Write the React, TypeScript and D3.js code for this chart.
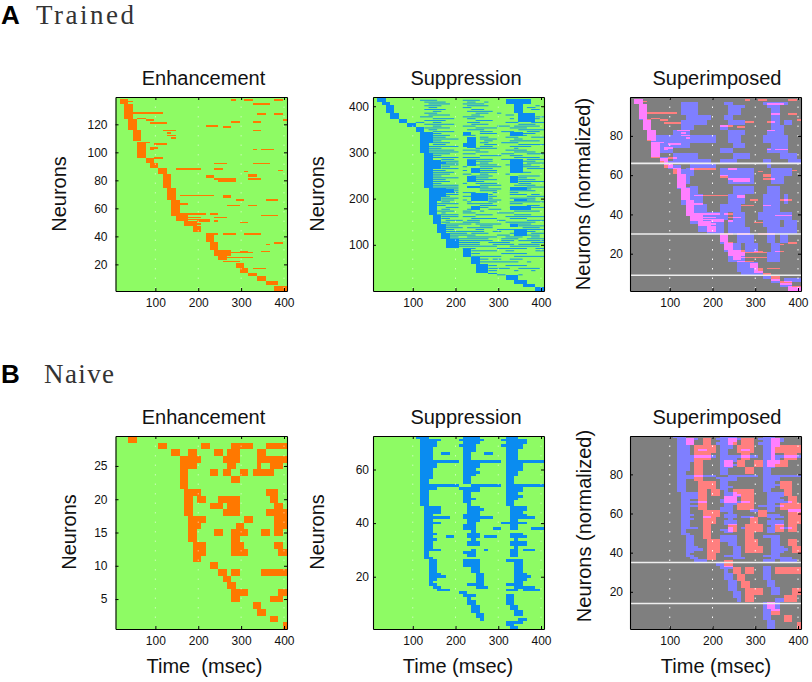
import React, { useRef, useEffect } from "react";
import * as d3 from "d3";

// every row: [neuronLow, neuronHigh, t0, t1, t0, t1, ...] (msec, 10 ms bins)
type Row = number[];

const timeTicks = [100, 200, 300, 400];

const enhanceTrained: Row[] = [
  [134.6, 138.4, 20, 40], [136, 137, 40, 50], [123.9, 134.6, 30, 50], [115.8, 123.9, 40, 60],
  [107.9, 115.8, 50, 70], [96, 107.2, 60, 80], [92.4, 96, 80, 100], [88.9, 92.4, 90, 110],
  [84.8, 88.9, 110, 130], [74.6, 84.8, 120, 140], [66.2, 74.6, 130, 150], [54.3, 66.2, 140, 160],
  [50.8, 56.7, 150, 180], [47.2, 50.8, 170, 200], [42.9, 47.2, 190, 210], [35.8, 42, 220, 240],
  [30.5, 35.8, 230, 250], [26.2, 30.5, 240, 280], [22.9, 26.2, 250, 270], [17.4, 20.8, 290, 310],
  [13.9, 17.4, 300, 320], [11.5, 13.9, 320, 340], [7.9, 11.5, 340, 360], [5.5, 7.9, 360, 390],
  [1, 4.3, 380, 410],
  [137, 138, 280, 290, 310, 330, 380, 400], [134, 135, 330, 370], [127.5, 128.5, 50, 120],
  [127, 128, 340, 360, 380, 400], [123.5, 124.5, 60, 80], [122.5, 123.5, 80, 100, 400, 410],
  [121.2, 122.2, 280, 300, 330, 350], [120.3, 121.3, 90, 130], [118.4, 119.4, 220, 250],
  [117.5, 118.5, 260, 280], [115, 116, 120, 150, 330, 350], [113.4, 114.4, 130, 140],
  [111.5, 112.5, 130, 150], [109.8, 110.8, 140, 150], [106.7, 107.7, 70, 90], [105.5, 106.5, 100, 130],
  [102.5, 103.5, 90, 110], [101.5, 102.5, 90, 100, 330, 340, 350, 380], [95.5, 96.5, 100, 120],
  [91.5, 92.5, 240, 270, 330, 370], [87.5, 88.5, 150, 210, 240, 260], [86.7, 87.7, 390, 400],
  [85.7, 86.7, 310, 320], [81.7, 84, 220, 240], [82.7, 84.6, 320, 340], [80.5, 81.5, 320, 350, 240, 290],
  [79.1, 80.1, 250, 290], [68.5, 69.5, 160, 240], [67.6, 69.6, 260, 280], [65.5, 66.5, 290, 310, 360, 390],
  [61.7, 62.7, 270, 300, 320, 340], [62.5, 63.5, 160, 180], [55.5, 56.5, 180, 220, 230, 250],
  [54.3, 55.3, 350, 390], [53.1, 54.1, 180, 210, 240, 270], [51.5, 52.5, 180, 230],
  [49.5, 50.5, 300, 320], [50.5, 51.5, 200, 230, 240, 250], [48.4, 49.4, 180, 210],
  [41.2, 42.2, 220, 250, 260, 290, 310, 350], [34.8, 35.8, 380, 400], [33.8, 34.8, 360, 370],
  [28.5, 29.5, 300, 320, 350, 370], [27.9, 28.9, 260, 330], [24.5, 25.5, 260, 330],
  [21.7, 22.7, 260, 300], [16.5, 17.5, 330, 360],
];

const suppressTrainedBlocks: Row[] = [
  [410, 420, 20, 40], [403, 410, 30, 50], [386, 403, 40, 60], [372, 386, 50, 70], [363, 372, 70, 90],
  [356, 363, 90, 110], [345, 356, 110, 130], [320, 345, 120, 150], [299, 320, 120, 140],
  [224, 299, 130, 150], [265, 283, 150, 170], [275, 280, 170, 180], [164, 224, 140, 160],
  [204, 224, 160, 180], [212, 220, 180, 200], [195, 204, 160, 170], [145, 164, 150, 170],
  [125, 145, 160, 180], [112, 125, 170, 190], [94, 112, 180, 210], [74, 90, 220, 240],
  [58, 74, 240, 260], [40, 58, 250, 280], [36, 40, 280, 300], [24, 35, 320, 350], [15, 24, 340, 370],
  [8, 15, 360, 390], [0, 8, 390, 410], [405, 416, 320, 380], [385, 405, 340, 360], [365, 385, 350, 390],
  [338, 345, 220, 240], [309, 334, 230, 250], [312, 320, 220, 250], [270, 283, 230, 250],
  [255, 266, 240, 260], [236, 248, 230, 250], [222, 228, 230, 260], [194, 212, 240, 280],
  [176, 185, 240, 260], [335, 345, 330, 360], [255, 285, 330, 360], [233, 248, 330, 350],
  [218, 226, 330, 370], [194, 200, 340, 370], [176, 183, 330, 380], [138, 146, 330, 350],
  [120, 135, 340, 370],
];

const suppressTrainedStreaks: Row[] = [
  [412, 414, 120, 160, 220, 260], [408, 410, 130, 180, 230, 250, 270, 280], [404, 406, 140, 190, 220, 270],
  [400, 402, 130, 170, 230, 280, 390, 400], [396, 398, 140, 160, 220, 240, 370, 390],
  [392, 394, 130, 180, 240, 270, 380, 400], [388, 390, 150, 170, 230, 290], [384, 386, 130, 160, 250, 280, 300, 310],
  [380, 382, 140, 190, 240, 260, 320, 340], [376, 378, 120, 150, 220, 270, 390, 410],
  [372, 374, 150, 200, 230, 250, 330, 340, 360, 400], [368, 370, 130, 180, 250, 290],
  [364, 366, 110, 130, 150, 170, 230, 260, 320, 350, 380, 410], [360, 362, 130, 200, 240, 280, 350, 390],
  [356, 358, 150, 170, 220, 250, 300, 330, 340, 400], [352, 354, 130, 190, 250, 300, 330, 370],
  [348, 350, 140, 160, 230, 270, 350, 410], [344, 346, 150, 200, 260, 290, 310, 340, 370, 400],
  [340, 342, 150, 170, 260, 300, 360, 390], [336, 338, 150, 190, 220, 250, 330, 370],
  [332, 334, 150, 180, 260, 280, 320, 350, 380, 410], [328, 330, 150, 210, 260, 300, 340, 360],
  [324, 326, 150, 170, 270, 290, 330, 400], [320, 322, 150, 190, 260, 280, 310, 350],
  [316, 318, 150, 180, 270, 300, 350, 410], [312, 314, 140, 210, 260, 290, 330, 380],
  [308, 310, 140, 170, 250, 300, 340, 350], [304, 306, 140, 200, 220, 260, 320, 370],
  [300, 302, 130, 210, 250, 280, 340, 390], [296, 298, 150, 190, 220, 250, 310, 340, 370, 410],
  [292, 294, 150, 170, 260, 310, 330, 360], [288, 290, 150, 210, 220, 260, 340, 400],
  [284, 286, 170, 200, 230, 290, 310, 350, 370, 410], [280, 282, 170, 210, 250, 290, 360, 390],
  [276, 278, 180, 210, 260, 280, 370, 410], [272, 274, 170, 210, 250, 300, 320, 330, 360, 380],
  [268, 270, 170, 190, 220, 230, 260, 310, 360, 400], [264, 266, 170, 210, 260, 290, 370, 410],
  [260, 262, 150, 180, 220, 230, 260, 300], [256, 258, 150, 200, 260, 300, 360, 380],
  [252, 254, 150, 190, 220, 240, 260, 280, 320, 330], [248, 250, 150, 170, 240, 290, 350, 400],
  [244, 246, 150, 210, 250, 280, 340, 370], [240, 242, 150, 180, 250, 300, 350, 390],
  [236, 238, 150, 190, 250, 270, 350, 410], [232, 234, 150, 170, 220, 230, 250, 300, 350, 380],
  [228, 230, 150, 210, 260, 310, 340, 390], [224, 226, 150, 210, 260, 280, 370, 410],
  [220, 222, 180, 210, 260, 310, 370, 380], [216, 218, 200, 210, 260, 300, 330, 390],
  [212, 214, 180, 210, 220, 250, 290, 300, 330, 350], [208, 210, 180, 210, 280, 290, 330, 370, 380, 400],
  [204, 206, 170, 190, 220, 240, 280, 300, 370, 410], [200, 202, 170, 210, 280, 290, 330, 390],
  [196, 198, 170, 200, 220, 230, 280, 310, 370, 390], [192, 194, 170, 190, 230, 240, 280, 300, 330, 410],
  [188, 190, 160, 210, 230, 290, 330, 360], [184, 186, 160, 180, 260, 300, 370, 400],
  [180, 182, 180, 210, 260, 280, 330, 340, 380, 410], [176, 178, 170, 190, 230, 240, 280, 310],
  [172, 174, 160, 200, 220, 240, 260, 270, 340, 400], [168, 170, 170, 180, 220, 250, 300, 340],
  [164, 166, 160, 210, 250, 290, 340, 380], [160, 162, 170, 210, 220, 250, 320, 410],
  [156, 158, 170, 190, 240, 300, 330, 370], [152, 154, 180, 220, 230, 260, 300, 320, 370, 410],
  [148, 150, 170, 190, 220, 260, 320, 390], [144, 146, 180, 240, 250, 310, 330, 380],
  [140, 142, 180, 210, 260, 290, 350, 410], [136, 138, 180, 220, 230, 290, 360, 400],
  [132, 134, 180, 200, 250, 270, 300, 340, 370, 410], [128, 130, 180, 270, 290, 310, 370, 390],
  [124, 126, 190, 230, 240, 280, 330, 350, 380, 410], [120, 122, 190, 250, 300, 330, 370, 400],
  [116, 118, 190, 210, 230, 300, 320, 360, 380, 400], [112, 114, 190, 280, 310, 350, 370, 410],
  [108, 110, 210, 290, 310, 340, 350, 410], [104, 106, 210, 260, 280, 330, 380, 410],
  [100, 102, 210, 260, 290, 340, 350, 400], [96, 98, 210, 300, 330, 400], [91, 93, 220, 250, 300, 370, 390, 410],
  [86, 88, 240, 300, 320, 340, 390, 410], [80, 82, 240, 260, 310, 370], [74, 76, 240, 310, 340, 410],
  [68, 70, 260, 280, 290, 310, 330, 360], [62, 64, 260, 350, 370, 380], [54, 56, 280, 300, 320, 370],
  [48, 50, 280, 330, 350, 400], [43, 45, 280, 300, 340, 350, 380, 390], [34, 36, 300, 320, 350, 360],
];

const enhanceNaive: Row[] = [
  [28.5, 29.5, 40, 60],
  [27.5, 28.5, 110, 130, 210, 230, 280, 330, 360, 410],
  [26.5, 27.5, 140, 160, 180, 200, 240, 260, 270, 300, 340, 360],
  [25.5, 26.5, 160, 210, 260, 300, 340, 410],
  [24.5, 25.5, 160, 200, 270, 290, 340, 350, 370, 400],
  [23.5, 24.5, 160, 180, 230, 250, 260, 280, 300, 320, 330, 380],
  [22.5, 23.5, 160, 180, 280, 300],
  [21.5, 22.5, 160, 180],
  [20.5, 21.5, 170, 210, 360, 390],
  [19.5, 20.5, 170, 190, 200, 220, 250, 300, 370, 390],
  [18.5, 19.5, 170, 190, 230, 260, 270, 300, 380, 400],
  [17.5, 18.5, 170, 190, 260, 300, 360, 410],
  [16.5, 17.5, 180, 220, 310, 330, 380, 410],
  [15.5, 16.5, 180, 210, 290, 310, 380, 410],
  [14.5, 15.5, 180, 200, 240, 260, 280, 320, 350, 370, 380, 400],
  [13.5, 14.5, 180, 200, 280, 300],
  [12.5, 13.5, 190, 220, 280, 310, 380, 400],
  [11.5, 12.5, 190, 220, 280, 320, 390, 410],
  [10.5, 11.5, 190, 210],
  [9.5, 10.5, 230, 250],
  [8.5, 9.5, 250, 270, 280, 300, 350, 410],
  [7.5, 8.5, 260, 280],
  [6.5, 7.5, 270, 290],
  [5.5, 6.5, 280, 320, 390, 410],
  [4.5, 5.5, 280, 300, 370, 400],
  [3.5, 4.5, 330, 350],
  [2.5, 3.5, 340, 360],
  [1.5, 2.5, 370, 390],
  [0.5, 1.5, 400, 410],
];

const suppressNaive: Row[] = [
  [71.5, 72.5, 110, 140, 220, 260, 320, 350],
  [70.5, 71.5, 120, 170, 210, 270, 310, 370],
  [69.5, 70.5, 120, 160, 220, 260, 320, 370],
  [68.5, 69.5, 120, 160, 210, 250, 310, 360],
  [67.5, 68.5, 120, 150, 220, 250, 320, 360],
  [66.5, 67.5, 120, 150, 220, 250, 320, 350],
  [65.5, 66.5, 120, 150, 170, 190, 220, 240, 270, 290, 320, 350],
  [64.5, 65.5, 120, 150, 220, 240, 320, 350],
  [63.5, 64.5, 120, 150, 220, 240, 320, 350],
  [62.5, 63.5, 120, 210, 220, 240, 240, 310, 320, 410],
  [61.5, 62.5, 120, 160, 220, 260, 320, 360],
  [60.5, 61.5, 120, 160, 220, 260, 320, 360],
  [59.5, 60.5, 120, 150, 220, 250, 320, 360],
  [58.5, 59.5, 120, 150, 220, 260, 320, 350],
  [57.5, 58.5, 120, 150, 220, 250, 320, 350],
  [56.5, 57.5, 120, 150, 220, 240, 320, 340],
  [55.5, 56.5, 120, 140, 220, 240, 320, 340],
  [54.5, 55.5, 120, 140, 220, 240, 320, 340],
  [53.5, 54.5, 120, 210, 240, 310, 320, 410],
  [52.5, 53.5, 120, 160, 210, 260, 320, 360],
  [51.5, 52.5, 120, 140, 220, 260, 320, 360],
  [50.5, 51.5, 120, 140, 220, 240, 320, 350],
  [49.5, 50.5, 120, 140, 220, 240, 320, 360],
  [48.5, 49.5, 120, 140, 220, 250, 320, 350],
  [47.5, 48.5, 120, 140, 220, 240, 320, 340],
  [46.5, 47.5, 120, 140, 230, 240, 320, 340],
  [45.5, 46.5, 130, 170, 230, 260, 330, 370],
  [44.5, 45.5, 130, 170, 230, 270, 330, 370],
  [43.5, 44.5, 130, 170, 230, 260, 330, 360],
  [42.5, 43.5, 130, 150, 220, 260, 330, 370],
  [41.5, 42.5, 130, 190, 220, 290, 330, 390],
  [40.5, 41.5, 130, 150, 230, 260, 330, 350],
  [39.5, 40.5, 130, 170, 230, 250, 310, 370],
  [38.5, 39.5, 130, 150, 220, 250, 330, 350],
  [37.5, 38.5, 130, 150, 220, 250, 290, 310, 330, 350, 380, 410],
  [36.5, 37.5, 130, 150, 240, 250],
  [35.5, 36.5, 130, 160, 230, 260, 330, 360],
  [34.5, 35.5, 130, 150, 180, 200, 230, 260, 270, 300, 330, 370],
  [33.5, 34.5, 130, 160, 240, 250, 340, 350],
  [32.5, 33.5, 130, 150, 230, 260, 330, 370],
  [31.5, 32.5, 130, 150, 230, 260, 330, 370],
  [30.5, 31.5, 130, 150, 340, 350],
  [29.5, 30.5, 130, 170, 240, 250, 270, 280, 330, 350, 360, 390],
  [28.5, 29.5, 130, 140, 220, 250, 330, 350],
  [27.5, 28.5, 130, 140, 230, 250, 330, 350],
  [26.5, 27.5, 130, 150],
  [25.5, 26.5, 140, 160, 220, 260, 320, 360],
  [24.5, 25.5, 140, 160, 220, 260, 340, 360],
  [23.5, 24.5, 140, 160, 220, 260, 340, 360],
  [22.5, 23.5, 140, 160, 240, 260, 340, 360],
  [21.5, 22.5, 140, 160, 240, 260, 340, 360],
  [20.5, 21.5, 140, 170, 250, 270, 340, 370],
  [19.5, 20.5, 140, 180, 250, 270, 340, 380],
  [18.5, 19.5, 140, 160, 250, 270, 340, 370],
  [17.5, 18.5, 140, 150, 250, 270, 340, 360],
  [16.5, 17.5, 140, 160, 230, 270, 320, 360],
  [15.5, 16.5, 150, 170, 250, 280, 340, 390],
  [14.5, 15.5, 160, 190, 320, 350, 360, 400],
  [13.5, 14.5, 210, 230],
  [12.5, 13.5, 220, 250, 320, 340],
  [11.5, 12.5, 230, 240, 320, 340],
  [10.5, 11.5, 230, 250, 320, 340],
  [9.5, 10.5, 230, 250, 320, 340],
  [8.5, 9.5, 240, 260, 330, 350],
  [7.5, 8.5, 240, 260, 330, 350],
  [6.5, 7.5, 240, 260, 340, 360],
  [5.5, 6.5, 250, 270, 340, 360],
  [4.5, 5.5, 250, 270],
  [3.5, 4.5, 260, 270, 350, 370],
  [2.5, 3.5, 320, 360],
  [1.5, 2.5, 320, 340],
  [0.5, 1.5, 330, 350],
];

// blue layer of the trained overlay, y in normalized neurons
const overlayTrainedBlue: Row[] = [
  [96, 99, 20, 40], [88, 96, 30, 50], [83, 88, 40, 60], [78, 83, 50, 70], [69, 78, 60, 80], [67, 69, 80, 100],
  [65, 67, 90, 110], [63, 65, 100, 130], [53, 63, 120, 140], [45, 54, 130, 150], [39, 48, 140, 160],
  [35, 40, 150, 180], [31, 35, 170, 210], [25, 30, 220, 240], [21, 25, 230, 250], [16, 21, 240, 260],
  [11, 16, 260, 290], [9, 11, 270, 320], [7, 8.7, 320, 340], [5, 7, 340, 360], [3, 5, 360, 390], [1, 3, 380, 410],
  [95.5, 97.5, 130, 170, 230, 250, 320, 380], [94, 95.5, 130, 170, 240, 280, 330, 360],
  [90.7, 94, 130, 170, 240, 270, 340, 360], [88.2, 90.7, 140, 200, 230, 250, 340, 360],
  [85.7, 88.2, 130, 190, 240, 280, 340, 360, 370, 390], [83.2, 85.7, 130, 160, 220, 240, 340, 370],
  [80.7, 83.2, 110, 150, 240, 280, 330, 370], [76.5, 80.7, 70, 210, 240, 270, 320, 380],
  [74, 76.5, 80, 150, 250, 280, 340, 380], [71.4, 74, 80, 110, 220, 250, 330, 380],
  [68, 71.4, 110, 170, 250, 290, 360, 400], [65.7, 68, 110, 200, 220, 260, 320, 340, 380, 410],
  [63.5, 65.7, 150, 210, 330, 340], [59.7, 63.5, 140, 160, 220, 300, 340, 390],
  [55.5, 59.7, 140, 150, 240, 300, 340, 370], [50.4, 54.6, 150, 170, 250, 300, 330, 360],
  [45.4, 50.4, 150, 180, 240, 280, 320, 360, 370, 380], [41.2, 45.4, 160, 190, 220, 270, 320, 360],
  [37, 41.2, 160, 240, 250, 280, 310, 390], [33.6, 37, 170, 230, 240, 280, 320, 360, 370, 400],
  [30, 33.6, 190, 230, 240, 290, 330, 400], [25.2, 30, 260, 300, 330, 350, 360, 380],
  [21, 25.2, 240, 270, 280, 310, 340, 360], [16, 21, 260, 280, 330, 360], [10.9, 16, 260, 310],
  [9.2, 10.9, 270, 320], [5.5, 7.5, 370, 410],
];

const whiteLinesTrained = [66, 30, 9];
const whiteLinesNaive = [35, 14];

const GREEN = "#8efb64";
const ORANGE = "#ff7800";
const BLUE = "#0a8cf0";
const GRAY = "#7f7f7f";
const SOFT_RED = "#ff7f7f";
const SOFT_BLUE = "#7f7fff";
const FONT = "'Liberation Sans', Arial, sans-serif";

const cols = [
  { left: 115.5, right: 287, titleX: 203.5, tickPad: 8 },
  { left: 373, right: 544, titleX: 466, tickPad: 4 },
  { left: 630, right: 801, titleX: 717, tickPad: 7 },
];
const trainedBox = { top: 97, bottom: 291 };
const naiveBox = { top: 436, bottom: 629 };

export default function App() {
  const ref = useRef<SVGSVGElement | null>(null);

  useEffect(() => {
    const svg = d3.select(ref.current);
    svg.selectAll("*").remove();

    const drawRows = (
      g: any,
      rows: Row[],
      x: d3.ScaleLinear<number, number>,
      y: d3.ScaleLinear<number, number>,
      fill: string,
      crisp: boolean,
      blend?: string,
    ) => {
      const spans: number[][] = [];
      rows.forEach((r) => {
        for (let i = 2; i < r.length; i += 2) spans.push([r[0], r[1], r[i], r[i + 1]]);
      });
      g.append("g")
        .selectAll("rect")
        .data(spans)
        .enter()
        .append("rect")
        // bins start 3 ms before their label
        .attr("x", (d: number[]) => x(d[2] - 3))
        .attr("width", (d: number[]) => x(d[3]) - x(d[2]))
        .attr("y", (d: number[]) => y(d[1]))
        .attr("height", (d: number[]) => y(d[0]) - y(d[1]))
        .attr("fill", fill)
        .attr("shape-rendering", crisp ? "crispEdges" : "auto")
        .style("mix-blend-mode", blend ?? "normal");
    };

    const panel = (
      col: number,
      box: { top: number; bottom: number },
      yDomain: [number, number],
      yTicks: number[],
      title: string,
      bg: string,
      drawMarks: (g: any, x: d3.ScaleLinear<number, number>, y: d3.ScaleLinear<number, number>) => void,
      whiteLines: number[] = [],
    ) => {
      const { left, right, titleX, tickPad } = cols[col];
      const x = d3.scaleLinear().domain([7, 407]).range([left, right]);
      const y = d3.scaleLinear().domain(yDomain).range([box.bottom, box.top]);
      const clipId = `clip-${col}-${box.top}`;
      svg
        .append("clipPath")
        .attr("id", clipId)
        .append("rect")
        .attr("x", left)
        .attr("y", box.top)
        .attr("width", right - left)
        .attr("height", box.bottom - box.top);

      const g = svg.append("g").attr("clip-path", `url(#${clipId})`).style("isolation", "isolate");
      g.append("rect")
        .attr("x", left)
        .attr("y", box.top)
        .attr("width", right - left)
        .attr("height", box.bottom - box.top)
        .attr("fill", bg);
      drawMarks(g, x, y);

      // matlab ':' grid, white dots
      g.selectAll("line.grid")
        .data(timeTicks)
        .enter()
        .append("line")
        .attr("x1", (d) => x(d))
        .attr("x2", (d) => x(d))
        .attr("y1", box.top)
        .attr("y2", box.bottom)
        .attr("stroke", "#fff")
        .attr("stroke-opacity", bg === GRAY ? 0.95 : 0.5)
        .attr("stroke-width", 1)
        .attr("stroke-dasharray", "1.5 8");

      g.selectAll("line.sep")
        .data(whiteLines)
        .enter()
        .append("line")
        .attr("x1", left)
        .attr("x2", right)
        .attr("y1", (d) => y(d))
        .attr("y2", (d) => y(d))
        .attr("stroke", "#eee")
        .attr("stroke-width", 1.6);

      const styleAxis = (a: any) => {
        a.selectAll("path").attr("stroke", "#000").attr("stroke-width", 1.1);
        a.selectAll("line").attr("stroke", "#000");
        a.selectAll("text").attr("fill", "#111").style("font-family", FONT).style("font-size", "12px");
      };
      svg.append("g")
        .attr("transform", `translate(0,${box.bottom})`)
        .call(d3.axisBottom(x).tickValues(timeTicks).tickSizeInner(-3).tickSizeOuter(0).tickPadding(7) as any)
        .call(styleAxis);
      svg.append("g")
        .attr("transform", `translate(0,${box.top})`)
        .call(d3.axisTop(x).tickValues(timeTicks).tickSizeInner(-3).tickSizeOuter(0).tickFormat(() => "") as any)
        .call(styleAxis);
      svg.append("g")
        .attr("transform", `translate(${left},0)`)
        .call(d3.axisLeft(y).tickValues(yTicks).tickSizeInner(-3).tickSizeOuter(0).tickPadding(tickPad) as any)
        .call(styleAxis);
      svg.append("g")
        .attr("transform", `translate(${right},0)`)
        .call(d3.axisRight(y).tickValues(yTicks).tickSizeInner(-3).tickSizeOuter(0).tickFormat(() => "") as any)
        .call(styleAxis);

      svg.append("text")
        .attr("x", titleX)
        .attr("y", box.top - 12)
        .attr("text-anchor", "middle")
        .style("font-family", FONT)
        .style("font-size", "20px")
        .attr("fill", "#111")
        .text(title);
    };

    const yLabel = (x: number, y: number, text: string) =>
      svg.append("text")
        .attr("transform", `translate(${x},${y}) rotate(-90)`)
        .attr("text-anchor", "middle")
        .style("font-family", FONT)
        .style("font-size", "20px")
        .attr("fill", "#111")
        .text(text);

    const xLabel = (x: number, text: string) =>
      svg.append("text")
        .attr("x", x)
        .attr("y", 673)
        .attr("text-anchor", "middle")
        .style("white-space", "pre")
        .style("font-family", FONT)
        .style("font-size", "20px")
        .attr("fill", "#111")
        .text(text);

    const yEnhTrained = d3.scaleLinear().domain([1, 139.5]).range([trainedBox.bottom, trainedBox.top]);

    // trained row
    panel(0, trainedBox, [1, 139.5], [20, 40, 60, 80, 100, 120], "Enhancement", GREEN, (g, x, y) =>
      drawRows(g, enhanceTrained, x, y, ORANGE, true),
    );
    panel(1, trainedBox, [0, 420], [100, 200, 300, 400], "Suppression", GREEN, (g, x, y) => {
      drawRows(g, suppressTrainedStreaks, x, y, BLUE, false);
      drawRows(g, suppressTrainedBlocks, x, y, BLUE, true);
    });
    panel(2, trainedBox, [1, 99.8], [20, 40, 60, 80], "Superimposed", GRAY, (g, x, y) => {
      drawRows(g, overlayTrainedBlue, x, y, SOFT_BLUE, true);
      drawRows(g, enhanceTrained, x, yEnhTrained, SOFT_RED, true, "lighten");
    }, whiteLinesTrained);

    // naive row
    panel(0, naiveBox, [0.5, 29.5], [5, 10, 15, 20, 25], "Enhancement", GREEN, (g, x, y) =>
      drawRows(g, enhanceNaive, x, y, ORANGE, true),
    );
    panel(1, naiveBox, [0.5, 72.5], [20, 40, 60], "Suppression", GREEN, (g, x, y) =>
      drawRows(g, suppressNaive, x, y, BLUE, true),
    );
    panel(2, naiveBox, [1, 99.6], [20, 40, 60, 80], "Superimposed", GRAY, (g, x) => {
      // latency groups are stretched to their share of the normalized axis
      const blueY = d3.scaleLinear().domain([0.5, 3.5, 15, 72.5]).range([629, 601.7, 560.3, 436]);
      const redY = d3.scaleLinear().domain([0.5, 4.5, 10.5, 27.5]).range([629, 601.7, 560.3, 438.3]).clamp(true);
      drawRows(g, suppressNaive, x, blueY, SOFT_BLUE, true);
      drawRows(g, enhanceNaive, x, redY, SOFT_RED, true, "lighten");
    }, whiteLinesNaive);

    yLabel(66, 194, "Neurons");
    yLabel(324, 194, "Neurons");
    yLabel(590, 194, "Neurons (normalized)");
    yLabel(76, 532, "Neurons");
    yLabel(324, 532, "Neurons");
    yLabel(591, 526, "Neurons (normalized)");

    xLabel(204.5, "Time  (msec)");
    xLabel(458, "Time (msec)");
    xLabel(716, "Time (msec)");

    const letter = (y: number, big: string, name: string, nameX: number, spacing: number) => {
      svg.append("text")
        .attr("x", 1)
        .attr("y", y)
        .style("font-family", FONT)
        .style("font-weight", "bold")
        .style("font-size", "26px")
        .attr("fill", "#000")
        .text(big);
      svg.append("text")
        .attr("x", nameX)
        .attr("y", y - 0.5)
        .style("font-family", "'Liberation Serif', serif")
        .style("font-size", "27px")
        .style("letter-spacing", `${spacing}px`)
        .attr("fill", "#333")
        .text(name);
    };
    letter(24, "A", "Trained", 36, 2.5);
    letter(383, "B", "Naive", 44, 1.4);
  }, []);

  return <svg ref={ref} width={812} height={682} style={{ position: "absolute", left: 0, top: 0, background: "#fff" }} />;
}
